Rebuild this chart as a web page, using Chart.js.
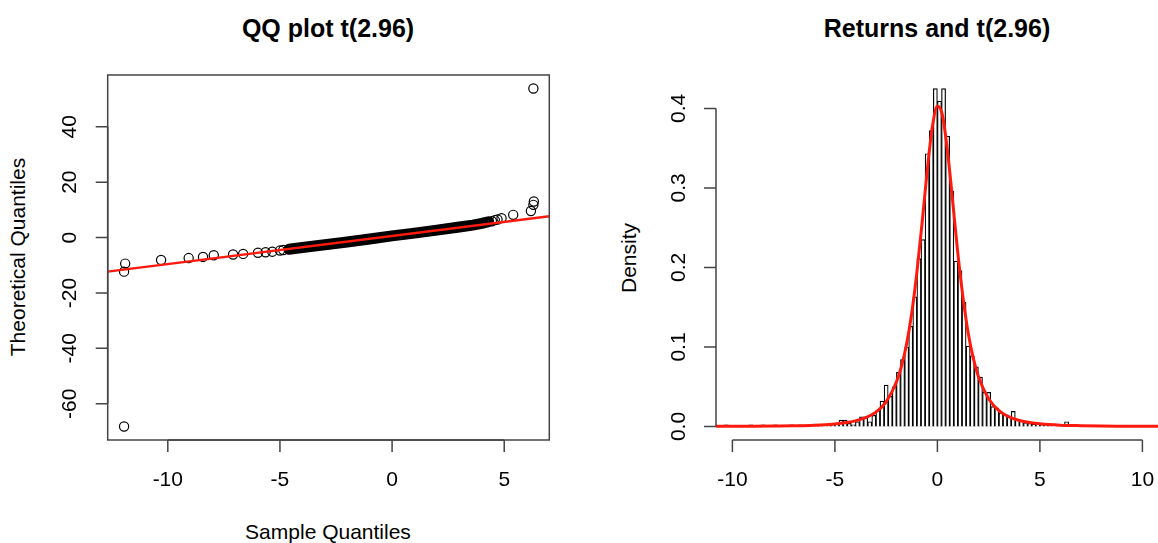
<!DOCTYPE html>
<html>
<head>
<meta charset="utf-8">
<script src="https://cdn.jsdelivr.net/npm/chart.js@4.4.1/dist/chart.umd.min.js"></script>
<style>
  body { margin: 0; width: 1158px; height: 543px; overflow: hidden; background: #fff; position: relative; }
  canvas { position: absolute; top: 0; }
  .lab { position: absolute; font-family: "Liberation Sans", Arial, sans-serif; color: #000; white-space: nowrap; line-height: 1; transform: translate(-50%, -50%); }
  .title { font-weight: bold; font-size: 25px; }
  .axt { font-size: 21px; }
  .rot { transform: translate(-50%, -50%) rotate(-90deg); }
</style>
</head>
<body>
<div class="lab title" style="left:328px; top:28px;">QQ plot t(2.96)</div>
<div class="lab title" style="left:937px; top:28px;">Returns and t(2.96)</div>
<div class="lab axt" style="left:328px; top:531px;">Sample Quantiles</div>
<div class="lab axt rot" style="left:17px; top:257px;">Theoretical Quantiles</div>
<div class="lab axt rot" style="left:628px; top:258px;">Density</div>
<canvas id="qq" width="579" height="543" style="left:0"></canvas>
<canvas id="hist" width="581" height="543" style="left:579px"></canvas>
<script>
// QQ plot: sample quantiles (x) vs fitted t quantiles (y)
const bandSample = [-4.6, -4.0, -3.0, -2.0, -1.0, 0.0, 1.0, 2.0, 3.0, 3.6, 4.0, 4.3];
const bandTheo = [-4.2, -3.6, -2.6, -1.6, -0.5, 0.6, 1.6, 2.7, 3.8, 4.5, 5.1, 5.7];
const tailSample = [-11.95, -11.95, -11.9, -10.3, -9.07, -8.43, -7.95, -7.09, -6.64, -5.98, -5.64, -5.34, -5.0, -4.85,
  4.45, 4.58, 4.7, 4.88, 5.4, 6.19, 6.3, 6.32, 6.3];
const tailTheo = [-68.2, -12.3, -9.4, -8.1, -7.4, -7.0, -6.4, -6.1, -5.9, -5.5, -5.3, -5.1, -4.7, -4.5,
  5.9, 6.3, 6.5, 7.0, 8.2, 9.6, 11.8, 13.0, 53.8];
const refLineX = [-12.68, 7.01];
const refLineY = [-12.3, 7.65];

// histogram of returns (bin mids, width 0.2) and fitted t density
const binMid = [-10.7, -10.5, -10.3, -10.1, -9.9, -9.7, -9.5, -9.3, -9.1, -8.9, -8.7, -8.5, -8.3, -8.1, -7.9, -7.7,
  -7.5, -7.3, -7.1, -6.9, -6.7, -6.5, -6.3, -6.1, -5.9, -5.7, -5.5, -5.3, -5.1, -4.9, -4.7, -4.5, -4.3, -4.1,
  -3.9, -3.7, -3.5, -3.3, -3.1, -2.9, -2.7, -2.5, -2.3, -2.1, -1.9, -1.7, -1.5, -1.3, -1.1, -0.9, -0.7, -0.5,
  -0.3, -0.1, 0.1, 0.3, 0.5, 0.7, 0.9, 1.1, 1.3, 1.5, 1.7, 1.9, 2.1, 2.3, 2.5, 2.7, 2.9, 3.1, 3.3, 3.5, 3.7,
  3.9, 4.1, 4.3, 4.5, 4.7, 4.9, 5.1, 5.3, 5.5, 5.7, 5.9, 6.1, 6.3];
const binDensity = [0, 0, 0.002, 0, 0, 0, 0, 0, 0.002, 0, 0, 0.002, 0, 0, 0.002, 0,
  0, 0, 0.002, 0, 0.002, 0, 0, 0, 0.002, 0.002, 0, 0.002, 0.002, 0.004, 0.008, 0.008, 0.004, 0.002,
  0.006, 0.012, 0.012, 0.006, 0.014, 0.020, 0.032, 0.052, 0.038, 0.050, 0.068, 0.084, 0.100, 0.126, 0.163, 0.211, 0.235, 0.343,
  0.372, 0.425, 0.409, 0.425, 0.365, 0.296, 0.208, 0.196, 0.156, 0.101, 0.089, 0.075, 0.062, 0.043, 0.043, 0.025, 0.023, 0.017, 0.015, 0.013, 0.019,
  0.009, 0.007, 0.005, 0.004, 0.003, 0.003, 0.002, 0.002, 0.002, 0, 0.002, 0, 0.006];
const curveX = [-10.8, -9, -8, -7, -6, -5, -4.5, -4, -3.5, -3, -2.5, -2, -1.75, -1.5, -1.25, -1, -0.75, -0.5, -0.25,
  0, 0.25, 0.5, 0.75, 1, 1.25, 1.5, 1.75, 2, 2.5, 3, 3.5, 4, 4.5, 5, 6, 7, 8, 9, 10.8];
const curveY = [0.0002, 0.0004, 0.0006, 0.0009, 0.0016, 0.0032, 0.0046, 0.007, 0.011, 0.018, 0.031, 0.056, 0.076, 0.104, 0.143, 0.194, 0.255, 0.321, 0.376,
  0.403, 0.391, 0.345, 0.282, 0.217, 0.162, 0.118, 0.086, 0.063, 0.035, 0.020, 0.012, 0.0076, 0.005, 0.0034, 0.0017, 0.001, 0.0006, 0.0004, 0.0002];

const qqXTicks = [-10, -5, 0, 5];
const qqYTicks = [-60, -40, -20, 0, 20, 40];
const histXTicks = [-10, -5, 0, 5, 10];
const histYTicks = [0, 0.1, 0.2, 0.3, 0.4];
const histYLabels = ["0.0", "0.1", "0.2", "0.3", "0.4"];

const pairs = (xs, ys) => xs.map((v, i) => ({ x: v, y: ys[i] }));

// R-style axes: lines only between first and last tick, outward ticks, rotated y labels
const rAxes = {
  id: "rAxes",
  afterDraw(chart, args, o) {
    const { ctx, chartArea: a } = chart;
    const sx = chart.scales.x, sy = chart.scales.y;
    ctx.save();
    ctx.strokeStyle = "#444";
    ctx.lineWidth = 1.5;
    if (o.box) ctx.strokeRect(a.left, a.top, a.right - a.left, a.bottom - a.top);
    const xs = o.xTicks.map(v => sx.getPixelForValue(v));
    const ys = o.yTicks.map(v => sy.getPixelForValue(v));
    ctx.beginPath();
    ctx.moveTo(xs[0], a.bottom);
    ctx.lineTo(xs[xs.length - 1], a.bottom);
    xs.forEach(p => { ctx.moveTo(p, a.bottom); ctx.lineTo(p, a.bottom + 12); });
    ctx.moveTo(a.left, ys[0]);
    ctx.lineTo(a.left, ys[ys.length - 1]);
    ys.forEach(p => { ctx.moveTo(a.left, p); ctx.lineTo(a.left - 12, p); });
    ctx.stroke();
    ctx.fillStyle = "#000";
    ctx.font = '21px "Liberation Sans", Arial, sans-serif';
    ctx.textAlign = "center";
    ctx.textBaseline = "middle";
    o.xTicks.forEach((v, i) => ctx.fillText(String(v), xs[i], a.bottom + 40));
    o.yTicks.forEach((v, i) => {
      ctx.save();
      ctx.translate(a.left - 37, ys[i]);
      ctx.rotate(-Math.PI / 2);
      ctx.fillText(o.yLabels ? o.yLabels[i] : String(v), 0, 0);
      ctx.restore();
    });
    ctx.restore();
  }
};

new Chart(document.getElementById("qq"), {
  type: "scatter",
  data: {
    datasets: [
      {
        data: pairs(refLineX, refLineY),
        showLine: true,
        borderColor: "#ff1a0d",
        borderWidth: 2.5,
        pointRadius: 0,
        order: 0,
      },
      {
        data: pairs(bandSample, bandTheo),
        showLine: true,
        borderColor: "#000",
        borderWidth: 11,
        borderCapStyle: "round",
        borderJoinStyle: "round",
        pointRadius: 0,
        order: 1,
      },
      {
        data: pairs(tailSample, tailTheo),
        pointRadius: 4.6,
        pointBorderWidth: 1.2,
        borderColor: "#000",
        backgroundColor: "rgba(0,0,0,0)",
        order: 2,
      },
    ],
  },
  options: {
    responsive: false,
    animation: false,
    layout: { padding: { left: 107.7, top: 75, right: 29.7, bottom: 103 } },
    scales: {
      x: { type: "linear", display: false, min: -12.68, max: 7.01 },
      y: { type: "linear", display: false, min: -73.08, max: 58.68 },
    },
    plugins: {
      legend: { display: false },
      tooltip: { enabled: false },
      rAxes: { box: true, xTicks: qqXTicks, yTicks: qqYTicks },
    },
  },
  plugins: [rAxes],
});

new Chart(document.getElementById("hist"), {
  type: "bar",
  data: {
    datasets: [
      {
        type: "line",
        data: pairs(curveX, curveY),
        borderColor: "#ff1a0d",
        borderWidth: 3,
        pointRadius: 0,
        cubicInterpolationMode: "monotone",
        order: 0,
      },
      {
        data: pairs(binMid, binDensity),
        backgroundColor: "#fff",
        borderColor: "#000",
        borderWidth: 1.2,
        barPercentage: 1,
        categoryPercentage: 1,
        order: 1,
      },
    ],
  },
  options: {
    responsive: false,
    animation: false,
    layout: { padding: { left: 137, top: 75, right: 1.2, bottom: 103 } },
    scales: {
      x: { type: "linear", display: false, offset: false, min: -10.8, max: 10.8 },
      y: { type: "linear", display: false, min: -0.017, max: 0.442 },
    },
    plugins: {
      legend: { display: false },
      tooltip: { enabled: false },
      rAxes: { box: false, xTicks: histXTicks, yTicks: histYTicks, yLabels: histYLabels },
    },
  },
  plugins: [rAxes],
});
</script>
</body>
</html>
